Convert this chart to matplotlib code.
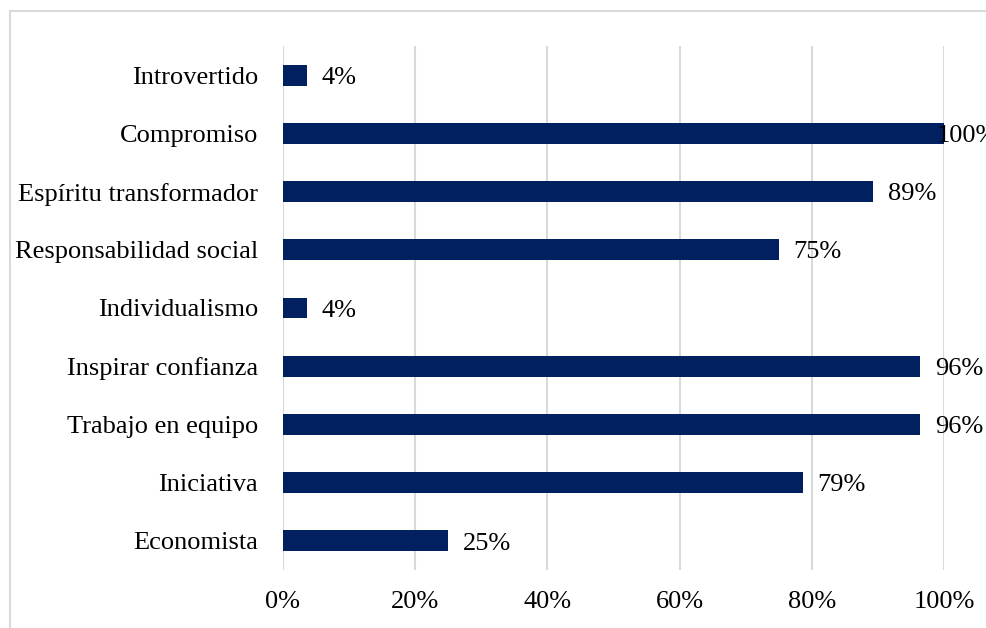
import matplotlib
matplotlib.use("Agg")
import matplotlib.pyplot as plt
from matplotlib.patches import Rectangle
from matplotlib.ticker import FuncFormatter

categories = ["Economista", "Iniciativa", "Trabajo en equipo", "Inspirar confianza",
              "Individualismo", "Responsabilidad social", "Espíritu transformador",
              "Compromiso", "Introvertido"]
values = [25.0, 78.6, 96.4, 96.4, 3.6, 75.0, 89.3, 100.0, 3.6]
labels = ["25%", "79%", "96%", "96%", "4%", "75%", "89%", "100%", "4%"]
xticks = [0, 20, 40, 60, 80, 100]

plt.rcParams["font.family"] = ["Liberation Serif", "DejaVu Serif"]
W, H = 987, 628
fig = plt.figure(figsize=(W / 100, H / 100), dpi=100)
ax = fig.add_axes([283 / W, 1 - 570 / H, (944 - 283) / W, (570 - 46) / H])

bar_color = "#002060"
grid_color = "#d9d9d9"
fs = 19

ypos = list(range(len(categories)))
ax.barh(ypos, values, height=0.36, color=bar_color, zorder=3)
ax.set_xlim(0, 100)
ax.set_ylim(-0.5, len(categories) - 0.5)
ax.set_xticks(xticks)
ax.xaxis.set_major_formatter(FuncFormatter(lambda v, p: f"{v:.0f}%"))
ax.set_yticks(ypos)
ax.set_yticklabels(categories)
ax.tick_params(axis="both", length=0, labelsize=fs, colors="black")
ax.tick_params(axis="y", pad=18)
ax.tick_params(axis="x", pad=15)
ax.grid(axis="x", color=grid_color, linewidth=1.5, zorder=0)
for s in ax.spines.values():
    s.set_visible(False)

fig.canvas.draw()
renderer = fig.canvas.get_renderer()
cap_half = fs * 100 / 72 * 0.66 / 2
for y, v, lab in zip(ypos, values, labels):
    bx, by = ax.transData.transform((v, y))
    xpix = bx + 15
    t = fig.text(xpix / W, (by - cap_half) / H, lab,
                 ha="left", va="baseline", fontsize=fs, color="black", zorder=5)
    ext = t.get_window_extent(renderer)
    limit = W + 11
    if ext.x1 > limit:
        t.set_x((xpix - (ext.x1 - limit)) / W)

# outer frame
fig.patches.append(Rectangle((10 / W, -0.1), 1.2, (1 - 11 / H) + 0.1,
                             transform=fig.transFigure, fill=False,
                             edgecolor=grid_color, linewidth=1.5))

fig.savefig("out.png", dpi=100)
